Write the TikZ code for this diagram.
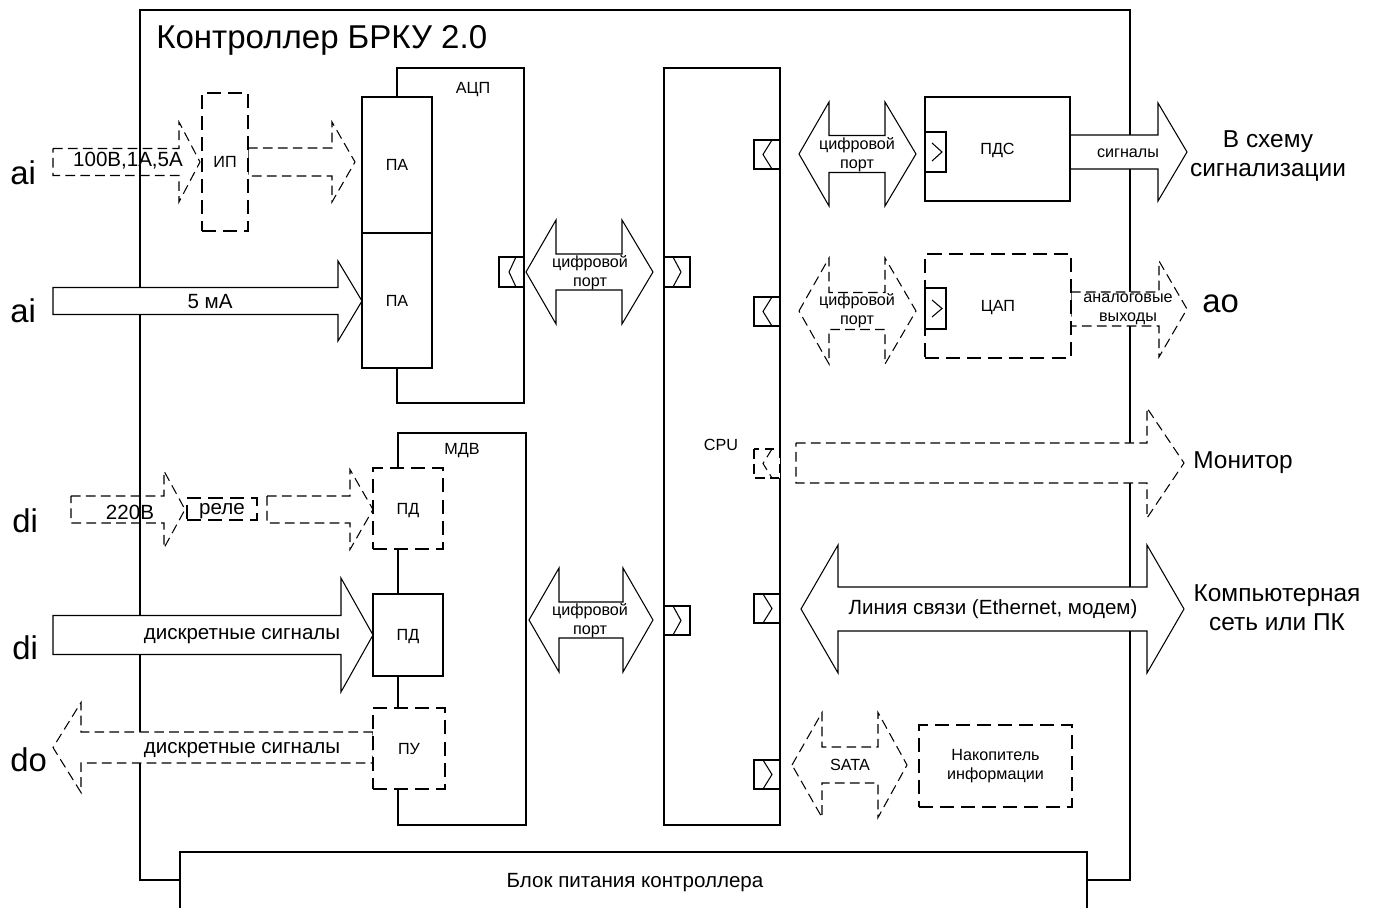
\documentclass[tikz,border=0pt]{standalone}
\usepackage{fontspec}
\setmainfont{Liberation Sans}
\usetikzlibrary{fit}

\newcommand{\fsmall}{\fontsize{9.2}{11}\selectfont}
\newcommand{\fmid}{\fontsize{11.7}{14}\selectfont}
\newcommand{\fbig}{\fontsize{13.9}{16.7}\selectfont}
\newcommand{\fhuge}{\fontsize{18.7}{22}\selectfont}
\newcommand{\ftitle}{\fontsize{18.8}{22}\selectfont}

\newcommand{\rarrow}[7][]{\draw[#1] (#2,#5-#6) -- (#3,#5-#6) -- (#3,#5-#7) -- (#4,#5) -- (#3,#5+#7) -- (#3,#5+#6) -- (#2,#5+#6) -- cycle;}
\newcommand{\darrow}[8][]{\draw[#1] (#2,#6) -- (#3,#6-#8) -- (#3,#6-#7) -- (#4,#6-#7) -- (#4,#6-#8) -- (#5,#6) -- (#4,#6+#8) -- (#4,#6+#7) -- (#3,#6+#7) -- (#3,#6+#8) -- cycle;}

\begin{document}
\begin{tikzpicture}[x=0.02cm, y=-0.02cm,
        frame/.style={line width=1.1pt},
        box/.style={draw, fill=white, line width=1.1pt, inner sep=0pt, outer sep=0pt},
        dbox/.style={box, dash pattern=on 8pt off 4pt},
        arr/.style={line width=0.6pt},
        farr/.style={arr, fill=white},
        darr/.style={arr, dash pattern=on 5.5pt off 3pt},
        fdarr/.style={darr, fill=white},
        portbox/.style={line width=0.6pt, fill=white},
        lbl/.style={inner sep=0pt, text height=1.5ex, text depth=0.25ex},
        two/.style={inner sep=0pt, align=center},
        side/.style={inner sep=0pt, anchor=base west, font=\fhuge}]
            \useasboundingbox (0,0) rectangle (1374,908);

            \draw[frame] (180,880) -- (140,880) -- (140,10) -- (1130,10) -- (1130,880) -- (1087,880);
            \draw[frame] (180,912) -- (180,852) -- (1087,852) -- (1087,912);

            \rarrow[darr]{53}{179}{200}{162}{13.5}{40}
            \rarrow[darr]{248}{332}{355}{162}{14}{40}
            \rarrow[farr]{53}{338}{362}{301}{13.5}{40}
            \rarrow[darr]{71}{164}{185}{509.5}{13.5}{38.5}
            \rarrow[darr]{267}{350}{373}{509.5}{13.5}{40}
            \rarrow[farr]{53}{341}{373}{635}{19.5}{57}
            \rarrow[fdarr]{373}{81}{53}{747.5}{15.5}{45}
            \darrow[farr]{526}{556}{622}{653}{272}{18}{52}
            \darrow[farr]{529}{559}{623}{653}{620}{18}{52}
            \darrow[farr]{799}{829}{885}{916}{154}{18.5}{52}
            \darrow[fdarr]{799}{829}{885}{916}{311}{18.5}{53}
            \rarrow[farr]{1070}{1158}{1187}{152}{17}{49}
            \rarrow[fdarr]{1071}{1159}{1187}{309}{17}{48}
            \rarrow[fdarr]{796}{1147}{1184}{463}{20}{55}
            \darrow[farr]{801}{838}{1147}{1184}{609}{22}{64}
            \darrow[darr]{792}{822}{878}{907}{765}{18}{52.5}

            \node[box, fit={(397,68) (524,403)}] (adc) {};
            \node[box, fit={(398,433) (526,825)}] (mdv) {};
            \node[box, fit={(664,68) (780,825)}] (cpu) {};
            \node[box, fit={(362,97) (432,233)}] (pa1) {};
            \node[box, fit={(362,233) (432,368)}] (pa2) {};
            \node[dbox, fit={(202,93) (248,231)}] (ip) {};
            \node[dbox, fit={(187,498) (257,520)}] (relay) {};
            \node[dbox, fit={(373,468) (443,549)}] (pd1) {};
            \node[box, fit={(373,594) (443,676)}] (pd2) {};
            \node[dbox, fit={(373,708) (445,789)}] (pu) {};
            \node[box, fit={(925,97) (1070,201)}] (pds) {};
            \node[dbox, fit={(925,254) (1071,358)}] (dac) {};
            \node[dbox, fit={(919,725) (1072,807)}] (hdd) {};

            \draw[portbox] (499,257) rectangle (524,287);
            \draw[arr] (516,257) -- (509,272) -- (516,287);
            \draw[portbox] (664,257) rectangle (690,287);
            \draw[arr] (673,257) -- (681,272) -- (673,287);
            \draw[portbox] (664,606) rectangle (690,635);
            \draw[arr] (673,606) -- (681,620.5) -- (673,635);
            \draw[portbox] (754,140) rectangle (780,169);
            \draw[arr] (772,140) -- (763,154.5) -- (772,169);
            \draw[portbox] (754,297) rectangle (780,326);
            \draw[arr] (772,297) -- (763,311.5) -- (772,326);
            \draw[portbox, darr] (754,449) rectangle (780,478);
            \draw[darr] (772,449) -- (763,463.5) -- (772,478);
            \draw[portbox] (754,594) rectangle (780,623);
            \draw[arr] (763,594) -- (772,608.5) -- (763,623);
            \draw[portbox] (754,760) rectangle (780,789);
            \draw[arr] (763,760) -- (772,774.5) -- (763,789);
            \draw[portbox] (925,132) rectangle (946,172);
            \draw[arr] (932,143) -- (942,152) -- (932,161);
            \draw[portbox] (925,288) rectangle (946,329);
            \draw[arr] (932,300) -- (942,308.5) -- (932,317);

            \node[inner sep=0pt, anchor=base west, font=\ftitle] (title) at (156,49) {Контроллер БРКУ 2.0};
            \node[lbl, font=\fsmall] (adcname) at (473,88) {АЦП};
            \node[lbl, font=\fsmall] (mdvname) at (462,449) {МДВ};
            \node[lbl, font=\fsmall] (cpuname) at (721,445) {CPU};
            \node[lbl, font=\fsmall] (pa1name) at (pa1.center) {ПА};
            \node[lbl, font=\fsmall] (pa2name) at (pa2.center) {ПА};
            \node[lbl, font=\fsmall] (ipname) at (ip.center) {ИП};
            \node[lbl, font=\fmid] (relayname) at (relay.center) {реле};
            \node[lbl, font=\fsmall] (pd1name) at (pd1.center) {ПД};
            \node[lbl, font=\fsmall] (pd2name) at (pd2.center) {ПД};
            \node[lbl, font=\fsmall] (puname) at (pu.center) {ПУ};
            \node[lbl, font=\fsmall] (pdsname) at (pds.center) {ПДС};
            \node[lbl, font=\fsmall] (dacname) at (dac.center) {ЦАП};
            \node[two, font=\fsmall] (hddname) at (hdd.center) {Накопитель\\информации};
            \node[lbl, font=\fmid] (ai1txt) at (128,161) {100В,1А,5А};
            \node[lbl, font=\fmid] (ai2txt) at (210,303) {5 мА};
            \node[lbl, font=\fmid] (di1txt) at (130,514) {220В};
            \node[lbl, font=\fmid] (di2txt) at (242,634) {дискретные сигналы};
            \node[lbl, font=\fmid] (dotxt) at (242,748) {дискретные сигналы};
            \node[two, font=\fsmall] (port1) at (590,273) {цифровой\\порт};
            \node[two, font=\fsmall] (port2) at (590,621) {цифровой\\порт};
            \node[two, font=\fsmall] (port3) at (857,155) {цифровой\\порт};
            \node[two, font=\fsmall] (port4) at (857,311) {цифровой\\порт};
            \node[lbl, font=\fsmall] (sig) at (1128,152) {сигналы};
            \node[two, font=\fsmall] (aout) at (1128,309) {аналоговые\\выходы};
            \node[lbl, font=\fmid] (net) at (993,609) {Линия связи (Ethernet, модем)};
            \node[lbl, font=\fsmall] (sata) at (850,765) {SATA};
            \node[lbl, font=\fmid] (psu) at (635,882) {Блок питания контроллера};

            \node[side] (ai1) at (10,185) {ai};
            \node[side] (ai2) at (10,323) {ai};
            \node[side] (di1) at (12,533) {di};
            \node[side] (di2) at (12,660) {di};
            \node[side] (dout) at (10,772) {do};
            \node[side] (aout2) at (1202,313) {ao};
            \node[two, font=\fbig] (alarm) at (1268,156) {В схему\\сигнализации};
            \node[lbl, anchor=west, font=\fbig] (mon) at (1193,463) {Монитор};
            \node[two, font=\fbig] (pc) at (1277,608) {Компьютерная\\сеть или ПК};
        \end{tikzpicture}
\end{document}
